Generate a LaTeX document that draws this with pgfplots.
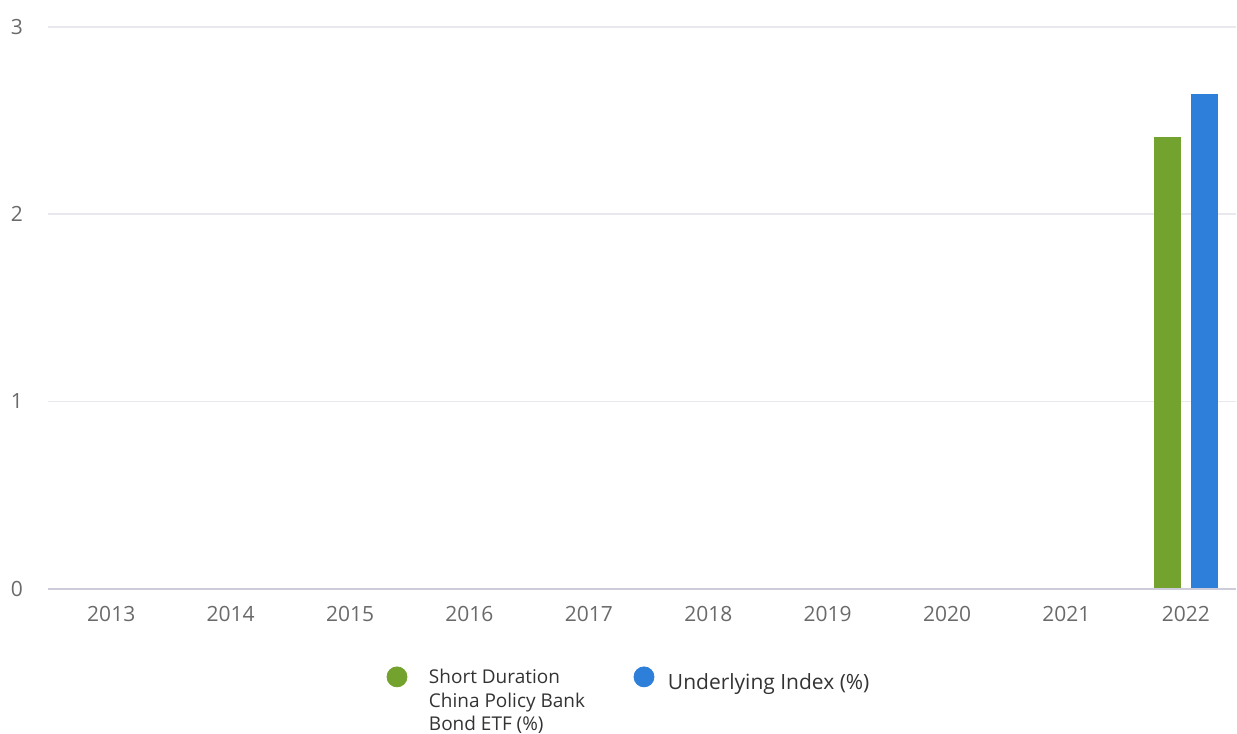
\documentclass[border=0pt]{standalone}
\usepackage{pgfplots}
\pgfplotsset{compat=1.18}
\usepackage{fontspec}
\setmainfont{Open Sans}
\definecolor{barGreen}{HTML}{74A22E}
\definecolor{barBlue}{HTML}{2E7FD9}
\definecolor{gridC}{HTML}{E8E8EE}
\definecolor{zeroC}{HTML}{CCCCDA}
\definecolor{tickC}{HTML}{6A6A6A}
\definecolor{legC}{HTML}{333333}
\begin{document}
\begin{tikzpicture}
\begin{axis}[
  name=ax,
  scale only axis,
  width=594.5pt, height=281pt,
  xmin=-0.53, xmax=9.42,
  ymin=0, ymax=3,
  xtick={0,...,9},
  xticklabels={2013,2014,2015,2016,2017,2018,2019,2020,2021,2022},
  ytick={0,1,2,3},
  axis line style={draw=none},
  axis x line*=bottom,
  axis y line*=left,
  major tick length=0pt,
  ymajorgrids,
  grid style={gridC, line width=0.8pt},
  tick label style={font=\fontsize{10.5}{12}\selectfont, text=tickC},
  /pgf/number format/assume math mode=true,
  yticklabel style={anchor=east, xshift=-9pt},
  xticklabel style={yshift=-5.5pt},
  clip=false,
  legend style={
    at={(0.28,-0.125)}, anchor=north west,
    draw=none, fill=none,
    legend columns=2,
    font=\fontsize{9.5}{11.8}\selectfont,
    text=legC,
    /tikz/every odd column/.append style={column sep=9pt},
    /tikz/every even column/.append style={column sep=22.5pt},
    cells={anchor=north west},
  },
  legend cell align=left,
]
\addlegendimage{only marks, mark=*, mark size=5pt, mark options={fill=barGreen, draw=barGreen}}
\addlegendentry{\begin{tabular}[t]{@{}l@{}}Short Duration\\China Policy Bank\\Bond ETF (\%)\end{tabular}}
\addlegendimage{only marks, mark=*, mark size=5pt, mark options={fill=barBlue, draw=barBlue}}
\addlegendentry{\hspace*{-4pt}\fontsize{10.5}{13}\selectfont\raisebox{-6pt}{Underlying Index (\%)}}
\addplot[ybar, bar width=0.225, bar shift=-0.155, fill=barGreen, draw=none, forget plot]
  coordinates {(9,2.41)};
\addplot[ybar, bar width=0.225, bar shift=0.155, fill=barBlue, draw=none, forget plot]
  coordinates {(9,2.64)};
\draw[zeroC, line width=1pt] (rel axis cs:0,0) -- (rel axis cs:1,0);
\end{axis}
\path[use as bounding box] ([xshift=-24pt,yshift=-72.5pt]ax.south west) rectangle ([yshift=13.5pt]ax.north east);
\end{tikzpicture}
\end{document}
